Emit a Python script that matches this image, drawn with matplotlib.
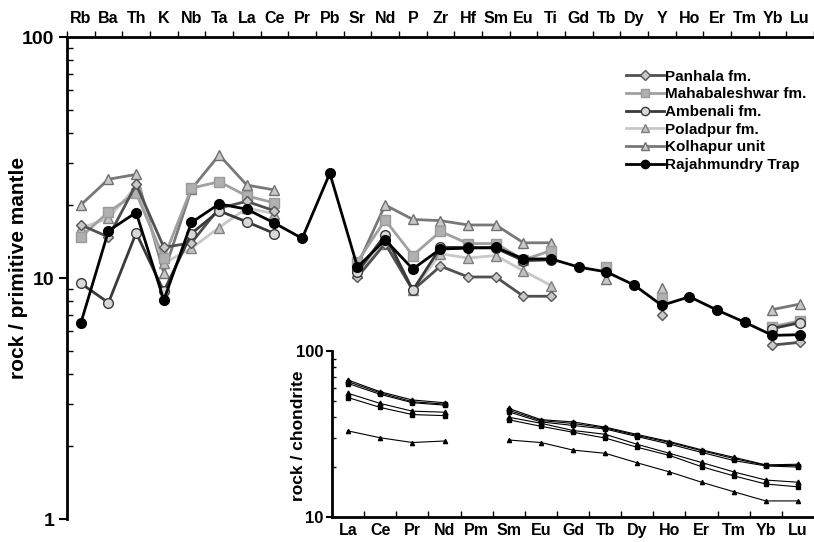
import matplotlib.pyplot as plt
import numpy as np
from matplotlib.ticker import FixedLocator, NullFormatter, FixedFormatter

plt.rcParams['font.family'] = ['Liberation Sans', 'DejaVu Sans']
plt.rcParams['font.weight'] = 'bold'

nan = np.nan

# Spider diagram: primitive mantle normalised
elements = ['Rb', 'Ba', 'Th', 'K', 'Nb', 'Ta', 'La', 'Ce', 'Pr', 'Pb', 'Sr', 'Nd', 'P', 'Zr',
            'Hf', 'Sm', 'Eu', 'Ti', 'Gd', 'Tb', 'Dy', 'Y', 'Ho', 'Er', 'Tm', 'Yb', 'Lu']

panhala = [16.6, 14.8, 24.5, 13.4, 14.0, 19.5, 20.8, 19.0, nan, nan, 10.1, 13.9, 8.9, 11.2,
           10.1, 10.1, 8.4, 8.4, nan, nan, nan, 7.0, nan, nan, nan, 5.27, 5.41]
mahabaleshwar = [14.8, 18.8, 22.5, 12.1, 23.6, 25.1, 21.9, 20.5, nan, nan, 11.7, 17.4, 12.4, 15.6,
                 13.9, 13.9, 11.9, 13.0, nan, 11.1, nan, 8.3, nan, nan, nan, 6.28, 6.65]
ambenali = [9.5, 7.9, 15.4, 8.8, 15.3, 19.0, 17.1, 15.3, nan, nan, 10.6, 15.1, 8.9, 13.4,
            13.4, 13.3, 11.8, 11.9, nan, nan, nan, nan, nan, nan, nan, 6.17, 6.53]
poladpur = [16.1, 17.7, 24.0, 11.5, 13.3, 16.2, 19.5, 18.5, nan, nan, 10.5, 13.9, 8.9, 12.6,
            12.1, 12.4, 10.7, 9.3, nan, nan, nan, nan, nan, nan, nan, nan, nan]
kolhapur = [20.1, 25.7, 26.9, 10.5, 23.4, 32.4, 24.3, 23.2, nan, nan, 11.3, 20.1, 17.5, 17.3,
            16.6, 16.6, 14.0, 14.0, nan, 9.9, nan, 9.1, nan, nan, nan, 7.4, 7.8]
rajahmundry = [6.5, 15.7, 18.7, 8.1, 17.0, 20.3, 19.3, 16.9, 14.6, 27.2, 11.1, 14.4, 10.9, 13.2,
               13.3, 13.4, 12.0, 12.0, 11.1, 10.6, 9.35, 7.7, 8.36, 7.36, 6.55, 5.78, 5.82]

# REE inset: chondrite normalised
ree = ['La', 'Ce', 'Pr', 'Nd', 'Pm', 'Sm', 'Eu', 'Gd', 'Tb', 'Dy', 'Ho', 'Er', 'Tm', 'Yb', 'Lu']
ree_1 = [66.8, 56.8, 50.7, 48.8, nan, 45.1, 38.6, 37.4, 34.8, 31.4, 28.5, 25.4, 22.9, 20.6, 20.8]
ree_2 = [65.3, 55.9, 49.5, 47.9, nan, 44.0, 38.1, 36.6, 34.4, 31.0, 28.1, 25.1, 22.5, 20.5, 20.4]
ree_3 = [63.7, 54.8, 48.8, 47.2, nan, 43.0, 37.4, 35.6, 33.9, 30.5, 27.5, 24.5, 21.9, 20.3, 20.0]
ree_4 = [55.6, 48.3, 43.4, 42.8, nan, 39.9, 36.7, 33.2, 31.5, 27.4, 24.2, 21.3, 18.7, 16.7, 16.2]
ree_5 = [52.4, 45.7, 41.4, 40.8, nan, 38.5, 35.2, 32.4, 29.9, 26.3, 23.5, 20.1, 17.7, 15.8, 15.2]
ree_6 = [33.0, 30.0, 28.1, 28.7, nan, 29.1, 28.1, 25.3, 24.2, 21.2, 18.7, 16.2, 14.2, 12.5, 12.5]

fig = plt.figure(figsize=(8.14, 5.42), dpi=100)
ax = fig.add_axes([0.0823, 0.0424, 0.9177, 0.8893])

x = np.arange(len(elements)) + 0.5

# (data, label, line colour, marker, face colour, edge colour, zorder, size)
series = [
    (panhala, 'Panhala fm.', '#505050', 'D', '#c8c8c8', '#555555', 4, 5.5),
    (mahabaleshwar, 'Mahabaleshwar fm.', '#a0a0a0', 's', '#b0b0b0', '#9a9a9a', 3, 7),
    (ambenali, 'Ambenali fm.', '#3a3a3a', 'o', '#d8d8d8', '#3a3a3a', 5, 7),
    (poladpur, 'Poladpur fm.', '#c8c8c8', '^', '#c0c0c0', '#808080', 2, 7.5),
    (kolhapur, 'Kolhapur unit', '#787878', '^', '#c8c8c8', '#707070', 1, 7.5),
    (rajahmundry, 'Rajahmundry Trap', 'black', 'o', 'black', 'black', 6, 7),
]
for vals, lab, lc, mk, fc, ec, z, ms in series:
    ax.plot(x, vals, color=lc, lw=2, marker=mk, ms=ms, mfc=fc, mec=ec, mew=1,
            label=lab, zorder=z)

ax.set_yscale('log')
ax.set_ylim(1, 100)
ax.set_xlim(0, len(elements))
ax.xaxis.tick_top()
ax.xaxis.set_major_locator(FixedLocator(np.arange(len(elements) + 1)))
ax.xaxis.set_major_formatter(NullFormatter())
ax.xaxis.set_minor_locator(FixedLocator(x))
ax.xaxis.set_minor_formatter(FixedFormatter(elements))
ax.tick_params(axis='x', which='major', direction='out', length=4, width=1)
ax.tick_params(axis='x', which='minor', length=0, pad=8, labelsize=11.5)
for t in ax.xaxis.get_minorticklabels():
    t.set_fontweight('bold')
ax.set_yticks([1, 10, 100])
ax.set_yticklabels(['1', '10', '100'], fontsize=14, fontweight='bold')
ax.tick_params(axis='y', which='major', direction='out', length=6, width=1.5, pad=3)
ax.tick_params(axis='y', which='minor', direction='in', length=4, width=1, labelleft=False)
ax.spines['right'].set_visible(False)
ax.spines['bottom'].set_visible(False)
ax.spines['left'].set_linewidth(2)
ax.spines['top'].set_linewidth(2)
ax.set_ylabel('rock / primitive mantle', fontsize=15, fontweight='bold')
ax.yaxis.set_label_coords(-0.052, 0.52)

leg = ax.legend(loc='upper left', bbox_to_anchor=(0.7395, 0.945), frameon=False,
                fontsize=11, handlelength=2.5, handletextpad=0.1, labelspacing=0.24,
                borderaxespad=0, markerscale=0.85)
for t in leg.get_texts():
    t.set_fontweight('bold')

# inset
ins = fig.add_axes([0.408, 0.0461, 0.592, 0.3063])
xr = np.arange(len(ree)) + 0.5
inset_lines = [(ree_1, '^', 3.5), (ree_2, 's', 3.5), (ree_3, 's', 3.5),
               (ree_4, '^', 3.5), (ree_5, 's', 3.5), (ree_6, '^', 3)]
for vals, mk, ms in inset_lines:
    ins.plot(xr, vals, color='black', lw=0.8, marker=mk, ms=ms)
ins.set_yscale('log')
ins.set_ylim(10, 100)
ins.set_xlim(0, len(ree))
ins.xaxis.set_major_locator(FixedLocator(np.arange(1, len(ree))))
ins.xaxis.set_major_formatter(NullFormatter())
ins.xaxis.set_minor_locator(FixedLocator(xr))
ins.xaxis.set_minor_formatter(FixedFormatter(ree))
ins.tick_params(axis='x', which='major', direction='in', length=4, width=1)
ins.tick_params(axis='x', which='minor', length=0, pad=4, labelsize=11.5)
for t in ins.xaxis.get_minorticklabels():
    t.set_fontweight('bold')
ins.set_yticks([10, 100])
ins.set_yticklabels(['10', '100'], fontsize=12, fontweight='bold')
ins.tick_params(axis='y', which='major', direction='out', length=4, width=1.5, pad=2)
ins.tick_params(axis='y', which='minor', direction='in', length=3, width=1, labelleft=False)
ins.spines['right'].set_visible(False)
ins.spines['top'].set_visible(False)
ins.spines['left'].set_linewidth(2)
ins.spines['bottom'].set_linewidth(2)
ins.patch.set_alpha(0)
ins.set_ylabel('rock / chondrite', fontsize=12.5, fontweight='bold')
ins.yaxis.set_label_coords(-0.055, 0.49)

fig.savefig('out.png', dpi=100)
